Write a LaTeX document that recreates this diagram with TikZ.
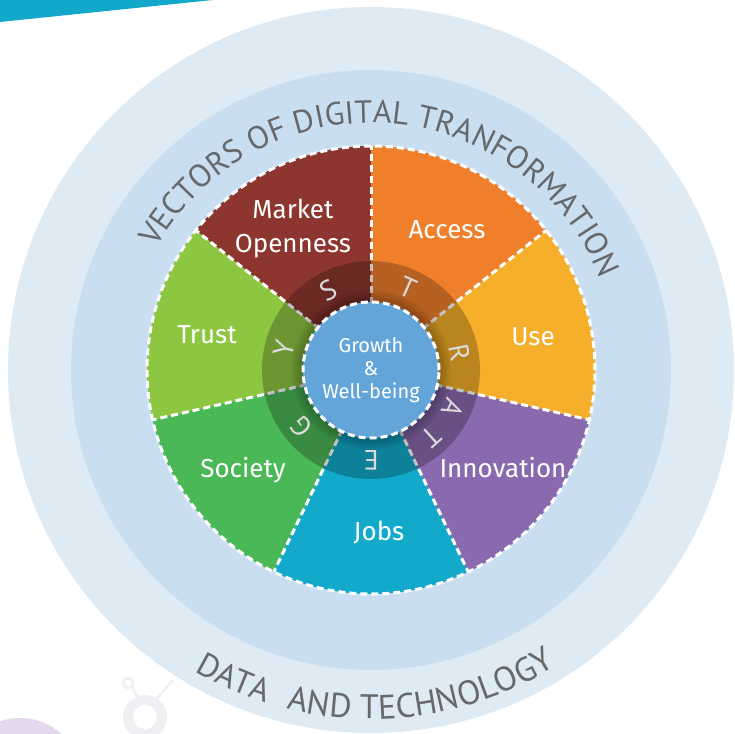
\documentclass[tikz,border=0pt]{standalone}
\usepackage{fontspec}
\setmainfont{Fira Sans}
\newfontfamily\arcfont{PT Sans}
\usepackage{tikz}
\usetikzlibrary{decorations.text}

\definecolor{outerblue}{HTML}{DEEBF5}
\definecolor{innerblue}{HTML}{C9DFF1}
\definecolor{hubblue}{HTML}{63A5D8}
\definecolor{arcgrey}{HTML}{67686B}
\definecolor{lettergrey}{HTML}{DADADA}
\definecolor{marketred}{HTML}{8D3630}
\definecolor{accessorange}{HTML}{F07F2C}
\definecolor{useyellow}{HTML}{F5AF2A}
\definecolor{innovpurple}{HTML}{8A6AAE}
\definecolor{jobsteal}{HTML}{12A9CB}
\definecolor{societygreen}{HTML}{4BB857}
\definecolor{trustgreen}{HTML}{8DC641}
\definecolor{cornerteal}{HTML}{12A8C9}
\definecolor{lavender}{HTML}{E4D8EC}
\definecolor{ghost}{HTML}{F1EEF4}

\begin{document}
\begin{tikzpicture}[
        x=1pt, y=1pt,
        dashline/.style={draw=white, line width=3pt, dash pattern=on 7pt off 4pt},
        vector/.style={text=white, font=\fontsize{26}{34}\selectfont, align=center},
        hub/.style={circle, fill=hubblue, minimum size=136pt, inner sep=0pt, text=white,
            font=\fontsize{20}{23}\selectfont, align=center},
        letter/.style={text=lettergrey, font=\arcfont\fontsize{28}{28}\selectfont, inner sep=0pt},
        arctext/.style 2 args={decorate, decoration={text along path, text align=center, text color=arcgrey,
            text={|\arcfont\fontsize{#1}{#1}\selectfont|#2}}},
        ]
        \clip (-371,-363) rectangle (364,370);
        \useasboundingbox (-371,-363) rectangle (364,370);

        % corner decorations
        \fill[cornerteal] (-371,370) -- (-158,370) -- (-371,348) -- cycle;
        \fill[lavender] (-351,-410) circle[radius=62];
        \draw[ghost, line width=10pt] (-226,-347) circle[radius=17];
        \draw[ghost, line width=2.5pt] (-243,-313) circle[radius=5];
        \draw[ghost, line width=2.5pt] (-239,-317) -- (-233,-328) (-216,-331) -- (-198,-310);

        % bands
        \fill[outerblue] (0,0) circle[radius=363];
        \fill[innerblue] (0,0) circle[radius=300];

        % sectors
        \foreach \col [count=\k from 0] in {marketred, trustgreen, societygreen, jobsteal, innovpurple, useyellow, accessorange}
            \fill[\col] (0,0) -- ({90+\k*360/7}:224) arc[start angle={90+\k*360/7}, end angle={90+(\k+1)*360/7}, radius=224] -- cycle;
        \foreach \k in {0,...,6}
            \draw[dashline] (0,0) -- ({90+\k*360/7}:224);
        \draw[dashline] (0,0) circle[radius=224];

        % strategy ring
        \fill[black, opacity=.24, even odd rule] (0,0) circle[radius=109] circle[radius=68];
        \foreach \r in {70,72,...,80}
            \fill[black, opacity=.04] (0,0) circle[radius=\r];
        \foreach \ch/\ang [count=\i] in {S/118, T/66, R/11, A/-25, T/-48, E/-90, G/-141, Y/166}
            \node[letter, rotate=\ang-90] (ltr\i) at (\ang:90) {\ch};

        \node[hub, dashline] (hub) at (0,0) {Growth\\\&\\Well-being};

        % vectors
        \node[vector] (market) at (-78,141) {Market\\Openness};
        \node[vector] (access) at (76,140) {Access};
        \node[vector] (use) at (162,33) {Use};
        \node[vector] (innovation) at (132,-98) {Innovation};
        \node[vector] (jobs) at (8,-163) {Jobs};
        \node[vector] (society) at (-128,-100) {Society};
        \node[vector] (trust) at (-164,35) {Trust};

        % curved titles
        \path[arctext={32}{VECTORS OF DIGITAL TRANFORMATION}] (160:247) arc[start angle=160, end angle=12, radius=247];
        \path[arctext={33}{DATA}] (-134:349) arc[start angle=-134, end angle=-94, radius=349];
        \path[arctext={34}{AND TECHNOLOGY}] (-116:349) arc[start angle=-116, end angle=-46, radius=349];
\end{tikzpicture}
\end{document}
